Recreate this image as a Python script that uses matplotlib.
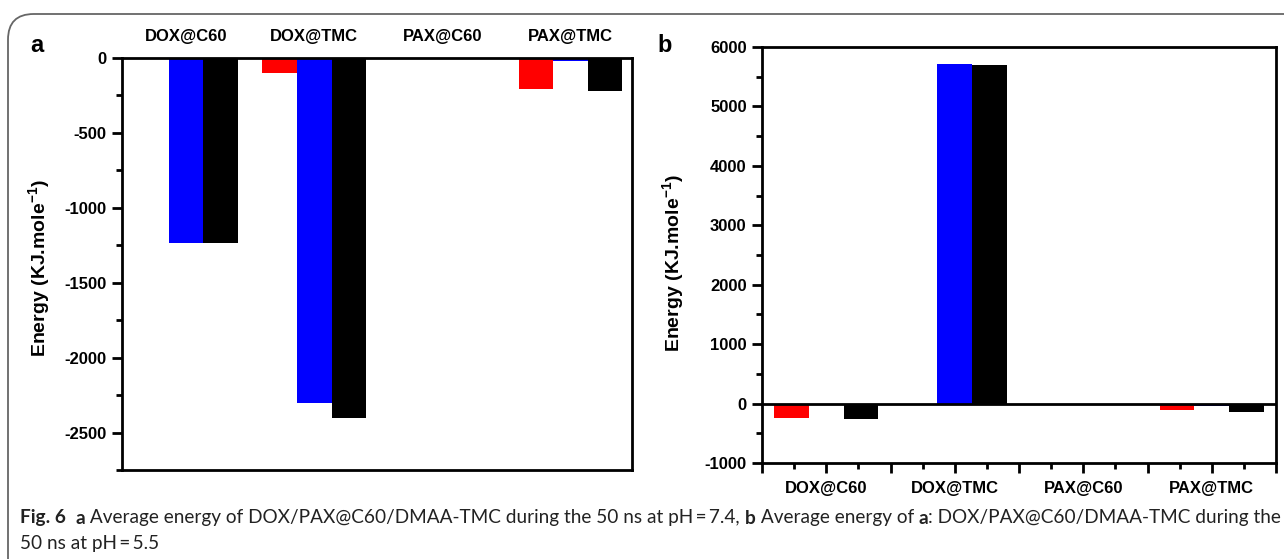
import matplotlib
matplotlib.use("Agg")
import matplotlib.pyplot as plt
import numpy as np
from matplotlib.patches import FancyBboxPatch
from matplotlib.ticker import MultipleLocator, FixedLocator, FuncFormatter

categories = ["DOX@C60", "DOX@TMC", "PAX@C60", "PAX@TMC"]
# panel a (pH 7.4)
a_red = [-3, -100, -2, -207]
a_blue = [-1232, -2305, -2, -18]
a_black = [-1234, -2400, -2, -220]
# panel b (pH 5.5)
b_red = [-235, -30, -3, -100]
b_blue = [-12, 5720, -3, -38]
b_black = [-255, 5695, -3, -142]

series_colors = ["#ff0000", "#0000ff", "#000000"]

W, H = 1284, 559
plt.rcParams['font.family'] = ['Liberation Sans', 'DejaVu Sans']
plt.rcParams['mathtext.fontset'] = 'custom'
plt.rcParams['mathtext.rm'] = 'Liberation Sans:bold'
plt.rcParams['mathtext.bf'] = 'Liberation Sans:bold'
plt.rcParams['mathtext.it'] = 'Liberation Sans:bold'
plt.rcParams['mathtext.default'] = 'rm'
fig = plt.figure(figsize=(W / 100, H / 100), dpi=100)

# border
border = FancyBboxPatch((8 / W, 1 - 14 / H - 600 / H), 1400 / W, 600 / H,
                        boxstyle="round,pad=0,rounding_size=0.02",
                        transform=fig.transFigure, fill=False,
                        edgecolor="#666666", linewidth=1.3, clip_on=False,
                        mutation_aspect=W / H)
fig.patches.append(border)

x = np.arange(1, len(categories) + 1)
bw = 0.27
intfmt = FuncFormatter(lambda v, p: f"{int(round(v))}")

def draw(ax, r, b, k):
    for off, vals, c in zip([-bw, 0, bw], [r, b, k], series_colors):
        ax.bar(x + off, vals, width=bw, color=c, edgecolor='none', zorder=2)
    for s in ax.spines.values():
        s.set_linewidth(2)
    ax.tick_params(axis='y', which='major', direction='out', length=7, width=2,
                   labelsize=12, pad=4)
    ax.tick_params(axis='y', which='minor', direction='out', length=4, width=2)
    ax.set_ylabel("Energy (KJ.mole$^{-1}$)", fontsize=14, fontweight='bold')

# panel a
axa = fig.add_axes([122 / W, 1 - 470 / H, 510 / W, 412 / H])
draw(axa, a_red, a_blue, a_black)
axa.set_xlim(0.5, 4.48)
axa.set_ylim(-2750, 0)
axa.yaxis.set_major_locator(FixedLocator([0, -500, -1000, -1500, -2000, -2500]))
axa.yaxis.set_minor_locator(MultipleLocator(250))
axa.yaxis.set_major_formatter(intfmt)
axa.xaxis.tick_top()
axa.set_xticks(x)
axa.set_xticklabels(categories, fontsize=12, fontweight='bold')
axa.tick_params(axis='x', length=0, pad=10)
for lab in axa.get_yticklabels():
    lab.set_fontweight('bold')
axa.yaxis.set_label_coords(-0.138, 0.49)

# panel b
axb = fig.add_axes([762 / W, 1 - 463 / H, 514 / W, 416 / H])
draw(axb, b_red, b_blue, b_black)
axb.axhline(0, color='black', linewidth=2, zorder=3)
axb.set_xlim(0.5, 4.5)
axb.set_ylim(-1000, 6000)
axb.yaxis.set_major_locator(MultipleLocator(1000))
axb.yaxis.set_minor_locator(MultipleLocator(500))
axb.yaxis.set_major_formatter(intfmt)
axb.xaxis.set_major_locator(FixedLocator(np.arange(0.5, 4.51, 0.5)))
axb.xaxis.set_minor_locator(FixedLocator(np.arange(0.75, 4.5, 0.5)))
axb.xaxis.set_major_formatter(FuncFormatter(
    lambda v, p: categories[int(round(v)) - 1] if abs(v - round(v)) < 1e-6 and 1 <= round(v) <= 4 else ""))
axb.tick_params(axis='x', which='major', direction='out', length=7, width=2,
                labelsize=12, pad=6)
axb.tick_params(axis='x', which='minor', direction='out', length=4, width=2)
for lab in axb.get_xticklabels():
    lab.set_fontweight('bold')
for lab in axb.get_yticklabels():
    lab.set_fontweight('bold')
axb.yaxis.set_label_coords(-0.148, 0.48)

# panel letters
fig.text(30 / W, 1 - 45 / H, "a", fontsize=17, fontweight='bold', va='center')
fig.text(657 / W, 1 - 45 / H, "b", fontsize=17, fontweight='bold', va='center')

# caption with mixed bold pieces
fig.canvas.draw()
renderer = fig.canvas.get_renderer()
cap_font = ['Lato', 'DejaVu Sans']

line1 = [("Fig. 6", True), ("  ", False), ("a", True),
         (" Average energy of DOX/PAX@C60/DMAA-TMC during the 50 ns at pH\u2009=\u20097.4, ", False),
         ("b", True), (" Average energy of ", False), ("a", True),
         (": DOX/PAX@C60/DMAA-TMC during the", False)]
line2 = [("50 ns at pH\u2009=\u20095.5", False)]

def measure(pieces, size):
    tot = 0
    for txt, bold in pieces:
        t = fig.text(0, 0, txt, fontsize=size, family=cap_font,
                     fontweight='bold' if bold else 'normal')
        tot += t.get_window_extent(renderer=renderer).width
        t.remove()
    return tot

size = 13.0 * 1255 / measure(line1, 13.0)

def caption_line(pieces, x0, y0):
    xp = x0
    for txt, bold in pieces:
        t = fig.text(xp / W, 1 - y0 / H, txt, fontsize=size, family=cap_font,
                     fontweight='bold' if bold else 'normal', va='center', ha='left',
                     color='#222222')
        xp += t.get_window_extent(renderer=renderer).width

caption_line(line1, 20, 518)
caption_line(line2, 20, 544)

fig.savefig("out.png", dpi=100)
